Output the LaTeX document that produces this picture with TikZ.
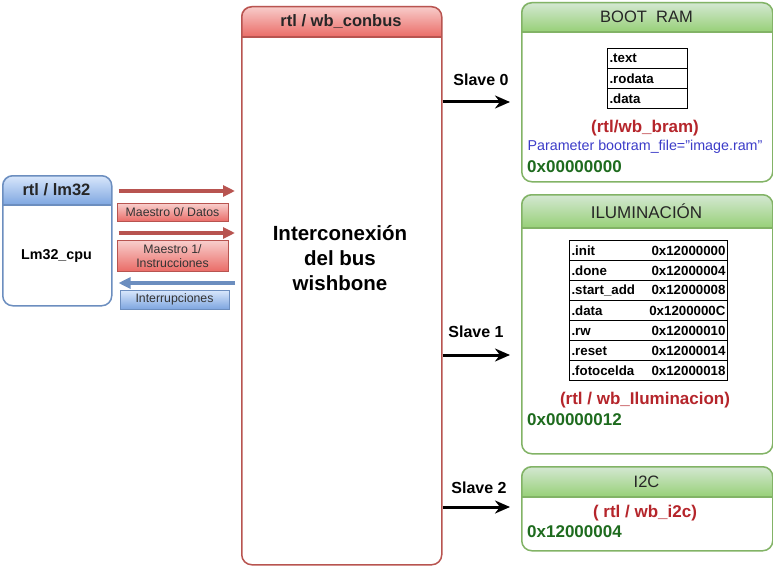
\documentclass[tikz,border=0pt]{standalone}
\usepackage{fontspec}
\setmainfont{Liberation Sans}
\usetikzlibrary{arrows.meta,calc}
\definecolor{redT}{HTML}{F8CECC}
\definecolor{redB}{HTML}{EA6B66}
\definecolor{redS}{HTML}{B85450}
\definecolor{bluT}{HTML}{DAE8FC}
\definecolor{bluB}{HTML}{7EA6E0}
\definecolor{bluS}{HTML}{6C8EBF}
\definecolor{grnT}{HTML}{D5E8D4}
\definecolor{grnB}{HTML}{97D077}
\definecolor{grnS}{HTML}{82B366}
\definecolor{txtred}{HTML}{B5252B}
\definecolor{txtgrn}{HTML}{1E6B1E}
\definecolor{txtblu}{HTML}{3C3CC8}
\definecolor{lbl}{HTML}{333333}
\newcommand\mybox[7]{%
  \begin{scope}
    \clip[rounded corners=10] (#2,#3) rectangle (#4,#5);
    \shade[top color=#7T,bottom color=#7B] (#2,#3) rectangle (#4,#6);
  \end{scope}
  \node[draw=#7S,line width=1.5,rounded corners=10,minimum width=#4-#2,minimum height=#5-#3,inner sep=0,anchor=north west] (#1) at (#2,#3) {};
  \draw[#7S,line width=1.5] (#2,#6) -- (#4,#6);
}
\tikzset{
  hdr/.style={font=\fontsize{16.5}{19}\selectfont,text=black!85},
  hdrb/.style={font=\bfseries\fontsize{16.5}{19}\selectfont,text=black!85},
  slv/.style={font=\bfseries\fontsize{16}{19}\selectfont},
  redarr/.style={redS,line width=3.5,-{Triangle[length=12,width=11]}},
  bluarr/.style={bluS,line width=3.5,-{Triangle[length=12,width=11]}},
  blkarr/.style={black,line width=3,-{Stealth[length=15,width=13]}},
  lblbox/.style={draw=#1S,line width=0.8,top color=#1T,bottom color=#1B,minimum width=111,inner sep=1,align=center,text=lbl,font=\fontsize{12.3}{14}\selectfont},
  cell/.style={draw,line width=1,anchor=north west,minimum height=20,inner xsep=2,inner ysep=0,align=left,font=\bfseries\fontsize{13.3}{15}\selectfont},
  rtxt/.style={text=txtred,font=\bfseries\fontsize{17}{20}\selectfont},
  gtxt/.style={text=txtgrn,font=\bfseries\fontsize{17}{20}\selectfont,anchor=west,inner xsep=0},
}
\begin{document}
\begin{tikzpicture}[x=1pt,y=-1pt]
\useasboundingbox (0,0) rectangle (773,567);
% boxes
\mybox{lm32}{2}{175}{111}{305}{205}{blu}
\mybox{conbus}{241}{6}{441}{564}{37}{red}
\mybox{boot}{521}{2}{772}{181}{32}{grn}
\mybox{ilum}{521}{194}{772}{453}{228}{grn}
\mybox{itc}{521}{466}{772}{550}{497}{grn}
% headers
\node[hdrb] (lmh) at (56.5,190) {rtl / lm32};
\node[hdrb] (cbh) at (341,21.5) {rtl / wb\_conbus};
\node[hdr] (bth) at (646.5,17) {BOOT\ \ RAM};
\node[hdr,font=\fontsize{17}{19}\selectfont] (ilh) at (646.5,211) {ILUMINACIÓN};
\node[hdr] (ich) at (646.5,481.5) {I2C};
% body texts
\node[font=\bfseries\fontsize{14.3}{16}\selectfont] (cpu) at (56.5,256) {Lm32\_cpu};
\node[font=\bfseries\fontsize{20.5}{25}\selectfont,align=center] (inter) at (340,258) {Interconexión\\del bus\\wishbone};
% left arrows
\coordinate (m0) at (0,191);
\coordinate (m1) at (0,233);
\coordinate (ir) at (0,283);
\draw[redarr] ($(lm32.east |- m0)+(6,0)$) -- ($(conbus.west |- m0)+(-6,0)$);
\draw[redarr] ($(lm32.east |- m1)+(6,0)$) -- ($(conbus.west |- m1)+(-6,0)$);
\draw[bluarr] ($(conbus.west |- ir)+(-6,0)$) -- ($(lm32.east |- ir)+(6,0)$);
\node[lblbox=red,minimum height=18] (l0) at (172.5,212.5) {Maestro 0/ Datos};
\node[lblbox=red,minimum height=31] (l1) at (172.5,256) {Maestro 1/\\Instrucciones};
\node[lblbox=blu,minimum height=19,minimum width=109] (l2) at (174.5,299.5) {Interrupciones};
% slave arrows
\coordinate (s0) at (0,102);
\coordinate (s1) at (0,355);
\coordinate (s2) at (0,507);
\draw[blkarr] (conbus.east |- s0) -- ($(boot.west |- s0)+(-11,0)$);
\draw[blkarr] (conbus.east |- s1) -- ($(ilum.west |- s1)+(-11,0)$);
\draw[blkarr] (conbus.east |- s2) -- ($(itc.west |- s2)+(-11,0)$);
\node[slv] (sl0) at (481,80) {Slave 0};
\node[slv] (sl1) at (476,332) {Slave 1};
\node[slv] (sl2) at (479,488) {Slave 2};
% boot ram table
\node[cell,minimum width=80,text width=76] (b1) at (607,48) {.text};
\node[cell,minimum width=80,text width=76] (b2) at (607,68) {.rodata};
\node[cell,minimum width=80,text width=76] (b3) at (607,88) {.data};
\node[rtxt] (bram) at (645,128) {(rtl/wb\_bram)};
\node[text=txtblu,font=\fontsize{14.3}{16}\selectfont] (par) at (645,147) {Parameter bootram\_file="image.ram"};
\node[gtxt] (ba) at (527,167) {0x00000000};
% ilum table
\node[cell,minimum width=158,text width=154] (i1) at (569,240) {.init\hfill 0x12000000};
\node[cell,minimum width=158,text width=154] (i2) at (569,260) {.done\hfill 0x12000004};
\node[cell,minimum width=158,text width=154] (i3) at (569,280) {.start\_add\hfill 0x12000008};
\node[cell,minimum width=158,text width=154] (i4) at (569,300) {.data\hfill 0x1200000C};
\node[cell,minimum width=158,text width=154] (i5) at (569,320) {.rw\hfill 0x12000010};
\node[cell,minimum width=158,text width=154] (i6) at (569,340) {.reset\hfill 0x12000014};
\node[cell,minimum width=158,text width=154] (i7) at (569,360) {.fotocelda\hfill 0x12000018};
\node[rtxt] (ilr) at (645,400) {(rtl / wb\_Iluminacion)};
\node[gtxt] (ila) at (527,420) {0x00000012};
% i2c
\node[rtxt] (icr) at (645,513) {( rtl / wb\_i2c)};
\node[gtxt] (ica) at (527,532) {0x12000004};
\end{tikzpicture}
\end{document}
